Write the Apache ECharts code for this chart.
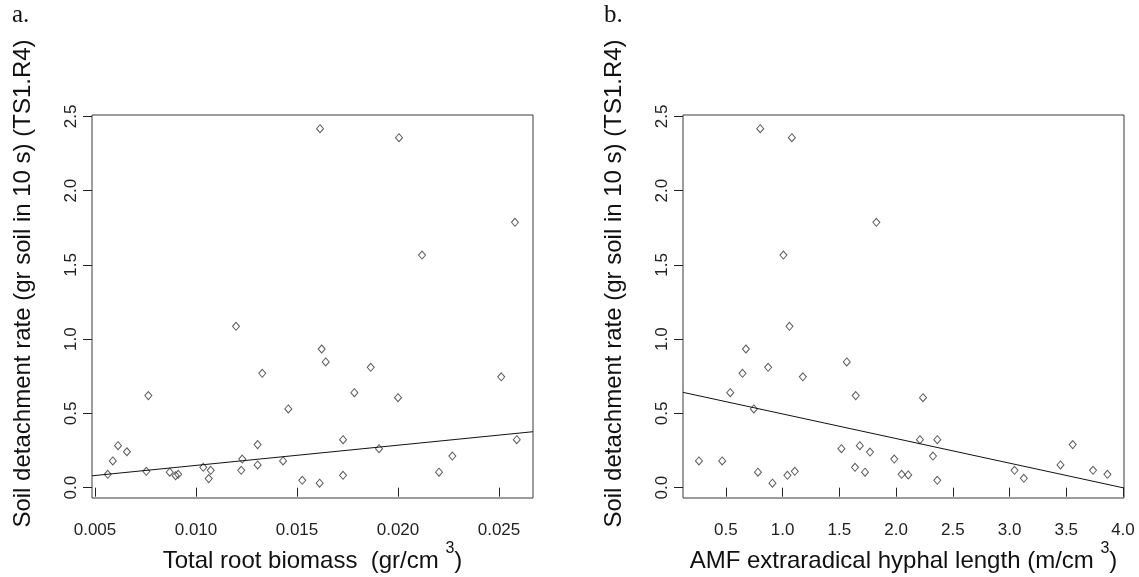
<!DOCTYPE html>
<html>
<head>
<meta charset="utf-8">
<script src="https://cdn.jsdelivr.net/npm/echarts@6/dist/echarts.min.js"></script>
<style>
html,body{margin:0;padding:0;background:#fff;}
#chart{width:1139px;height:577px;}
</style>
</head>
<body>
<div id="chart"></div>
<script>
// Panel a: total root biomass (gr/cm3) vs soil detachment rate
const rootBiomass = [0.01614,0.02005,0.02579,0.02119,0.00563,0.00588,0.00614,0.00658,0.00764,0.00754,0.00870,0.00899,0.00912,0.01036,0.01073,0.01063,0.01198,0.01229,0.01224,0.01305,0.01305,0.01328,0.01457,0.01431,0.01526,0.01612,0.01622,0.01642,0.01728,0.01728,0.01784,0.01865,0.01906,0.02000,0.02203,0.02269,0.02511,0.02588];
const detachA = [2.418,2.357,1.787,1.567,0.090,0.180,0.283,0.242,0.620,0.110,0.104,0.081,0.090,0.137,0.117,0.061,1.087,0.193,0.117,0.290,0.153,0.770,0.530,0.180,0.050,0.030,0.934,0.847,0.323,0.083,0.640,0.811,0.263,0.606,0.104,0.213,0.747,0.323];
// Panel b: AMF extraradical hyphal length (m/cm3) vs soil detachment rate
const hyphalLength = [0.802,1.081,1.826,1.007,0.262,0.467,0.538,0.646,0.676,0.746,0.782,0.910,0.872,1.060,1.042,1.107,1.178,1.518,1.565,1.644,1.680,1.638,1.770,1.726,1.984,2.049,2.107,2.237,2.210,2.363,2.325,2.363,3.044,3.126,3.449,3.557,3.736,3.863];
const detachB = [2.418,2.357,1.787,1.567,0.180,0.180,0.640,0.770,0.934,0.530,0.104,0.030,0.811,1.087,0.083,0.110,0.747,0.263,0.847,0.620,0.283,0.137,0.240,0.104,0.193,0.090,0.086,0.606,0.323,0.323,0.213,0.050,0.117,0.063,0.153,0.290,0.117,0.090];
// Fitted regression lines (endpoints read at plot edges)
const fitAx = [0.004851,0.026683];
const fitAy = [0.080,0.377];
const fitBx = [0.1215,4.009];
const fitBy = [0.642,-0.002];
// Tick labels
const yTicks = [0.0,0.5,1.0,1.5,2.0,2.5];
const xTicksA = [0.005,0.010,0.015,0.020,0.025];
const xTicksB = [0.5,1.0,1.5,2.0,2.5,3.0,3.5,4.0];

const FONT = '"Liberation Sans", Arial, sans-serif';
const pair = (xs, ys) => xs.map((x, i) => [x, ys[i]]);

const gridCommon = {top:115, height:383, width:441, show:true, borderColor:'#3a3a3a', borderWidth:1,
  backgroundColor:'transparent', containLabel:false, outerBoundsMode:'none'};

function yAxisDef(gridIndex) {
  return {
    type:'value', gridIndex, min:-0.0695, max:2.51,
    name:'Soil detachment rate (gr soil in 10 s) (TS1.R4)',
    nameLocation:'middle', nameRotate:90, nameGap:57, nameMoveOverlap:false,
    nameTextStyle:{fontFamily:FONT, fontSize:24, color:'#111', padding:[0,0,0,46]},
    axisLine:{show:false},
    splitLine:{show:false},
    axisTick:{show:true, length:9, lineStyle:{color:'#222'}, customValues:yTicks},
    axisLabel:{rotate:90, margin:12, fontFamily:FONT, fontSize:17, color:'#222',
      customValues:yTicks, formatter:v => Number(v).toFixed(1)}
  };
}

function xAxisDef(gridIndex, min, max, ticks, dec, nameMain) {
  return {
    type:'value', gridIndex, min, max,
    name: '{m|' + nameMain + '}{sup|3}{m|)}',
    nameLocation:'middle', nameGap:43, nameMoveOverlap:false,
    nameTextStyle:{fontFamily:FONT, fontSize:24, color:'#111',
      rich:{sup:{fontFamily:FONT, fontSize:16, color:'#111', verticalAlign:'top', lineHeight:16},
            m:{fontFamily:FONT, fontSize:24, color:'#111', lineHeight:40}}},
    axisLine:{show:false},
    splitLine:{show:false},
    axisTick:{show:true, length:9, lineStyle:{color:'#222'}, customValues:ticks},
    axisLabel:{margin:24, fontFamily:FONT, fontSize:17, color:'#222',
      customValues:ticks, formatter:v => Number(v).toFixed(dec)}
  };
}

const pointStyle = {color:'transparent', borderColor:'#333', borderWidth:1};

const option = {
  animation:false,
  backgroundColor:'#fff',
  grid:[
    Object.assign({left:92}, gridCommon),
    Object.assign({left:683}, gridCommon)
  ],
  xAxis:[
    xAxisDef(0, 0.004851, 0.026683, xTicksA, 3, 'Total root biomass  (gr/cm '),
    xAxisDef(1, 0.1215, 4.009, xTicksB, 1, 'AMF extraradical hyphal length (m/cm ')
  ],
  yAxis:[yAxisDef(0), yAxisDef(1)],
  series:[
    {type:'scatter', xAxisIndex:0, yAxisIndex:0, data:pair(rootBiomass, detachA),
     symbol:'diamond', symbolSize:[7,8], itemStyle:pointStyle},
    {type:'line', xAxisIndex:0, yAxisIndex:0, data:pair(fitAx, fitAy), symbol:'none',
     lineStyle:{color:'#111', width:1}},
    {type:'scatter', xAxisIndex:1, yAxisIndex:1, data:pair(hyphalLength, detachB),
     symbol:'diamond', symbolSize:[7,8], itemStyle:pointStyle},
    {type:'line', xAxisIndex:1, yAxisIndex:1, data:pair(fitBx, fitBy), symbol:'none',
     lineStyle:{color:'#111', width:1}}
  ],
  graphic:[
    {type:'text', left:12, top:3, style:{text:'a.', font:'25px "Liberation Serif", "Times New Roman", serif', fill:'#111'}},
    {type:'text', left:604, top:3, style:{text:'b.', font:'25px "Liberation Serif", "Times New Roman", serif', fill:'#111'}}
  ]
};

const chart = echarts.init(document.getElementById('chart'), null, {renderer:'canvas'});
chart.setOption(option);
</script>
</body>
</html>
